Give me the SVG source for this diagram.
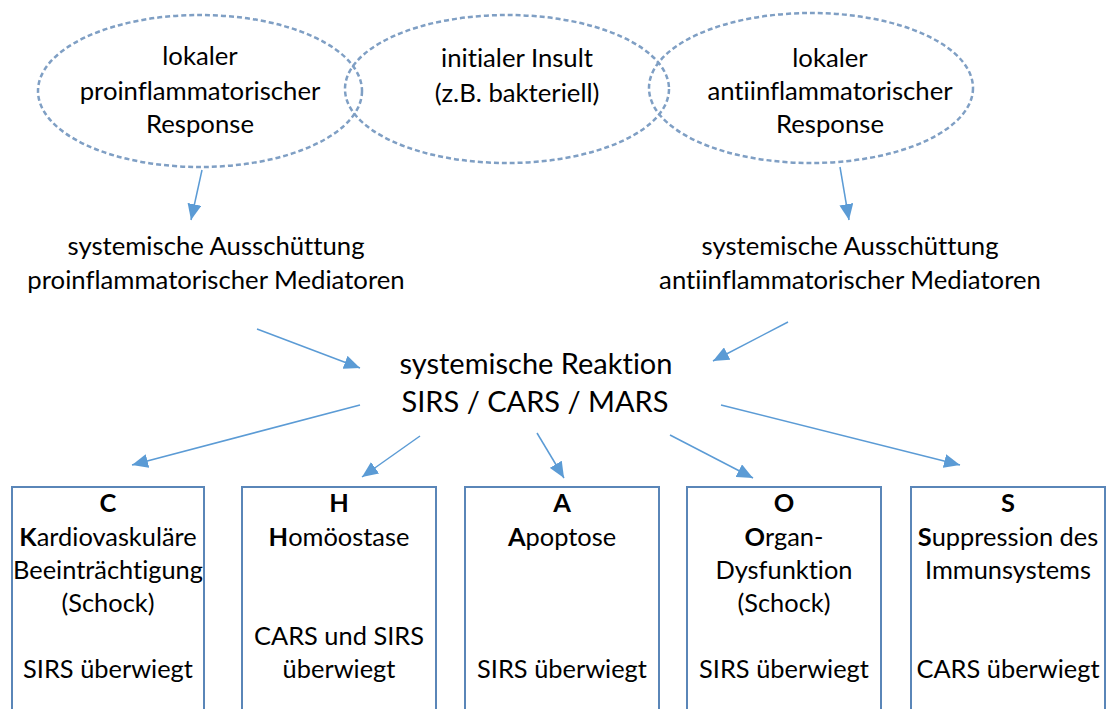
<svg xmlns="http://www.w3.org/2000/svg" width="1107" height="709" viewBox="0 0 1107 709">
<defs>
<marker id="ah" markerWidth="16" markerHeight="14" refX="16" refY="7" orient="auto" markerUnits="userSpaceOnUse">
<path d="M0,0 L16,7 L0,14 z" fill="#5b9bd5"/>
</marker>
<style>
text{font-family:Lato,"Liberation Sans",sans-serif;fill:#000;text-anchor:middle;font-size:25.7px;font-variant-ligatures:none}
.big{font-size:29px}
.bx text{font-size:25.4px}
.b{font-weight:bold}
.ell{fill:none;stroke:#7f9fc4;stroke-width:2.5;stroke-dasharray:5 3}
.box{fill:#fff;stroke:#5a86b8;stroke-width:2}
.con line{stroke:#5b9bd5;stroke-width:1.5;marker-end:url(#ah)}
</style>
</defs>
<rect width="1107" height="709" fill="#fff"/>
<g id="ell-pro">
<ellipse class="ell" cx="200" cy="91" rx="162" ry="76"/>
</g>
<g id="ell-ins">
<ellipse class="ell" cx="507" cy="89" rx="162" ry="74"/>
</g>
<g id="ell-anti">
<ellipse class="ell" cx="811" cy="88" rx="162" ry="75"/>
</g>
<g id="t-pro"><text x="200" y="65">lokaler</text><text x="200" y="100">proinflammatorischer</text><text x="200" y="133">Response</text></g>
<g id="t-ins"><text x="517" y="67">initialer Insult</text><text x="517" y="102">(z.B. bakteriell)</text></g>
<g id="t-anti"><text x="830" y="67">lokaler</text><text x="830" y="100">antiinflammatorischer</text><text x="830" y="133">Response</text></g>
<g id="med-pro"><text x="216" y="255">systemische Ausschüttung</text><text x="216" y="289">proinflammatorischer Mediatoren</text></g>
<g id="med-anti"><text x="850" y="255">systemische Ausschüttung</text><text x="850" y="289">antiinflammatorischer Mediatoren</text></g>
<g id="reaktion"><text class="big" x="536" y="374">systemische Reaktion</text><text class="big" x="535" y="412">SIRS / CARS / MARS</text></g>
<g id="box-c" class="bx">
<rect class="box" x="12" y="487" width="192" height="230"/>
<text class="b" x="108" y="512">C</text>
<text x="108" y="546"><tspan class="b">K</tspan>ardiovaskuläre</text>
<text x="108" y="579">Beeinträchtigung</text>
<text x="108" y="612">(Schock)</text>
<text x="108" y="678">SIRS überwiegt</text>
</g>
<g id="box-h" class="bx">
<rect class="box" x="242" y="487" width="194" height="230"/>
<text class="b" x="339" y="512">H</text>
<text x="339" y="546"><tspan class="b">H</tspan>omöostase</text>
<text x="339" y="645">CARS und SIRS</text>
<text x="339" y="678">überwiegt</text>
</g>
<g id="box-a" class="bx">
<rect class="box" x="465" y="487" width="194" height="230"/>
<text class="b" x="562" y="512">A</text>
<text x="562" y="546"><tspan class="b">A</tspan>poptose</text>
<text x="562" y="678">SIRS überwiegt</text>
</g>
<g id="box-o" class="bx">
<rect class="box" x="687" y="487" width="194" height="230"/>
<text class="b" x="784" y="512">O</text>
<text x="784" y="546"><tspan class="b">O</tspan>rgan-</text>
<text x="784" y="579">Dysfunktion</text>
<text x="784" y="612">(Schock)</text>
<text x="784" y="678">SIRS überwiegt</text>
</g>
<g id="box-s" class="bx">
<rect class="box" x="911" y="487" width="194" height="230"/>
<text class="b" x="1008" y="512">S</text>
<text x="1008" y="546"><tspan class="b">S</tspan>uppression des</text>
<text x="1008" y="579">Immunsystems</text>
<text x="1008" y="678">CARS überwiegt</text>
</g>
<g id="connectors" class="con">
<line x1="202" y1="170" x2="191" y2="220"/>
<line x1="840" y1="167" x2="849" y2="220"/>
<line x1="257" y1="329" x2="360" y2="368"/>
<line x1="788" y1="322" x2="713" y2="361"/>
<line x1="360" y1="405" x2="132" y2="465"/>
<line x1="420" y1="436" x2="362" y2="477"/>
<line x1="537" y1="433" x2="564" y2="478"/>
<line x1="670" y1="435" x2="753" y2="478"/>
<line x1="721" y1="405" x2="960" y2="465"/>
</g>
</svg>
